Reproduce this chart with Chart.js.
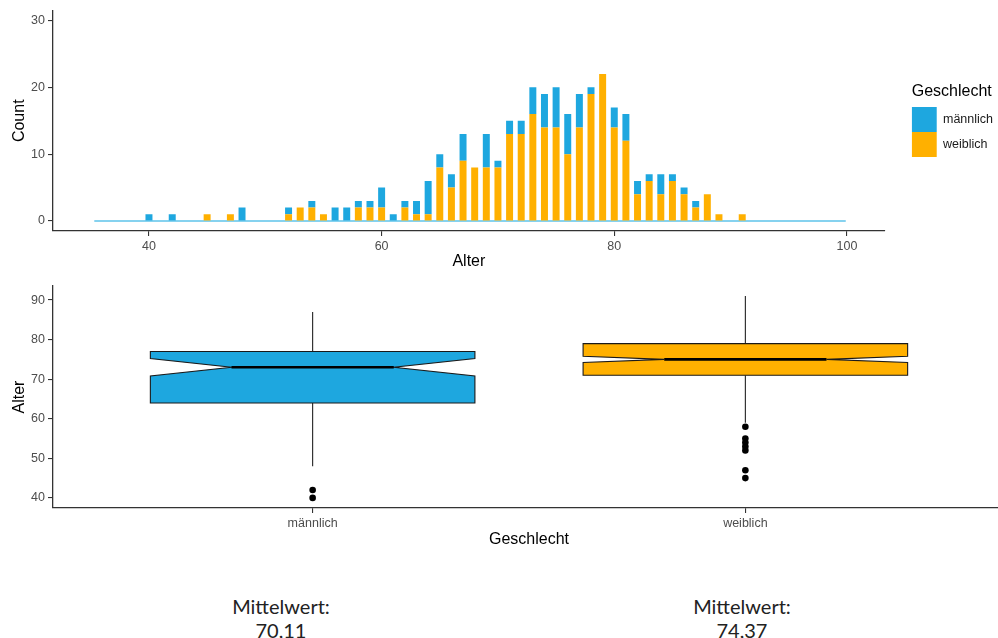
<!DOCTYPE html>
<html>
<head>
<meta charset="utf-8">
<script src="https://cdn.jsdelivr.net/npm/chart.js@4.4.1/dist/chart.umd.min.js"></script>
<style>
  html, body { margin: 0; padding: 0; background: #fff; }
  #page { position: relative; width: 998px; height: 638px; overflow: hidden; }
  #histWrap { position: absolute; left: 0; top: 0; width: 1003px; height: 271px; }
  #boxWrap { position: absolute; left: 0; top: 275px; width: 1009px; height: 274px; }
  .mean { position: absolute; top: 594px; width: 200px; text-align: center;
          font-family: Lato, sans-serif; font-size: 20px; line-height: 24px; color: #222; }
</style>
</head>
<body>
<div id="page">
  <div id="histWrap"><canvas id="histChart"></canvas></div>
  <div id="boxWrap"><canvas id="boxChart"></canvas></div>
  <div class="mean" id="meanM" style="left:181px"></div>
  <div class="mean" id="meanW" style="left:642px"></div>
</div>
<script>
// --- histogram data (Alter 40..91) ---
const ages = [
  40, 41, 42, 43, 44, 45, 46, 47, 48, 49,
  50, 51, 52, 53, 54, 55, 56, 57, 58, 59,
  60, 61, 62, 63, 64, 65, 66, 67, 68, 69,
  70, 71, 72, 73, 74, 75, 76, 77, 78, 79,
  80, 81, 82, 83, 84, 85, 86, 87, 88, 89,
  90, 91,
];
const countMaennlich = [
  1, 0, 1, 0, 0, 0, 0, 0, 2, 0,
  0, 0, 1, 0, 1, 0, 2, 2, 1, 1,
  3, 1, 1, 2, 5, 2, 2, 4, 0, 5,
  1, 2, 2, 4, 5, 6, 6, 5, 1, 0,
  3, 4, 2, 1, 3, 1, 1, 1, 0, 0,
  0, 0,
];
const countWeiblich = [
  0, 0, 0, 0, 0, 1, 0, 1, 0, 0,
  0, 0, 1, 2, 2, 1, 0, 0, 2, 2,
  2, 0, 2, 1, 1, 8, 5, 9, 8, 8,
  8, 13, 13, 16, 14, 14, 10, 14, 19, 22,
  14, 12, 4, 6, 4, 6, 4, 2, 4, 1,
  0, 1,
];
const baselineX = [35.3, 99.9];
const baselineY = [0, 0];
const histXTicks = [40, 60, 80, 100];
const histYTicks = [0, 10, 20, 30];

// --- boxplot data ---
const groups = ['männlich', 'weiblich'];
const whiskerLow = [48, 59];
const q1 = [64, 71];
const median = [73, 75];
const q3 = [77, 79];
const whiskerHigh = [87, 91];
const notchLow = [70.8, 74.2];
const notchHigh = [75.2, 75.8];
const outliersMaennlich = [40, 42];
const outliersWeiblich = [45, 47, 52, 53, 54, 55, 58];
const boxYTicks = [40, 50, 60, 70, 80, 90];
const meanText = ['70,11', '74,37'];

const blue = '#1EA7DF';
const orange = '#FFB000';
const axisGrey = '#333333';
const tickGrey = '#4D4D4D';

Chart.defaults.font.family = "'Liberation Sans', Arial, sans-serif";
Chart.defaults.color = tickGrey;

document.getElementById('meanM').innerHTML = 'Mittelwert:<br>' + meanText[0];
document.getElementById('meanW').innerHTML = 'Mittelwert:<br>' + meanText[1];

function axisCommon(titleText) {
  return {
    grid: { display: true, drawOnChartArea: false, drawTicks: true, tickLength: 5, color: axisGrey, lineWidth: 1.1, offset: false },
    border: { display: true, color: axisGrey, width: 1.3 },
    ticks: { color: tickGrey, font: { size: 12.5 }, padding: 3 },
    title: { display: true, text: titleText, color: '#000', font: { size: 16 }, padding: 0 },
  };
}

function histogramChart() {
  const ctx = document.getElementById('histChart');
  const xAxis = axisCommon('Alter');
  const yAxis = axisCommon('Count');

  new Chart(ctx, {
    type: 'bar',
    data: {
      datasets: [
        {
          label: 'weiblich',
          data: ages.map((a, i) => ({ x: a, y: countWeiblich[i] })),
          backgroundColor: orange,
          borderWidth: 0,
        },
        {
          label: 'männlich',
          data: ages.map((a, i) => ({ x: a, y: countMaennlich[i] })),
          backgroundColor: blue,
          borderWidth: 0,
        },
        {
          type: 'line',
          label: 'baseline',
          stack: 'baseline',
          order: 1,
          data: baselineX.map((a, i) => ({ x: a, y: baselineY[i] })),
          borderColor: '#5EC3EA',
          borderWidth: 1.6,
          pointRadius: 0,
        },
      ],
    },
    options: {
      responsive: true,
      maintainAspectRatio: false,
      animation: false,
      layout: { padding: { top: 10, left: 10, right: 0, bottom: 0 } },
      datasets: { bar: { barPercentage: 0.6, categoryPercentage: 1 } },
      scales: {
        x: {
          ...xAxis,
          type: 'linear',
          offset: false,
          stacked: true,
          min: 31.75,
          max: 103.25,
          afterBuildTicks: (scale) => { scale.ticks = histXTicks.map((v) => ({ value: v })); },
          afterFit: (scale) => { scale.height = 40; },
        },
        y: {
          ...yAxis,
          stacked: true,
          min: -1.5,
          max: 31.5,
          afterBuildTicks: (scale) => { scale.ticks = histYTicks.map((v) => ({ value: v })); },
          afterFit: (scale) => { scale.width = 43; },
        },
        gap: {
          type: 'linear',
          position: 'right',
          display: true,
          grid: { display: false },
          border: { display: false },
          ticks: { display: false },
          afterFit: (scale) => { scale.width = 27; },
        },
      },
      plugins: {
        tooltip: { enabled: false },
        legend: {
          position: 'right',
          align: 'start',
          title: {
            display: true,
            text: 'Geschlecht',
            position: 'start',
            color: '#000',
            font: { size: 16 },
            padding: { top: 74, bottom: 3.8 },
          },
          labels: {
            boxWidth: 25,
            boxHeight: 25,
            padding: 0,
            color: '#1a1a1a',
            font: { size: 12.5 },
            filter: (item) => item.datasetIndex !== 2,
            sort: (a, b) => b.datasetIndex - a.datasetIndex,
          },
        },
      },
    },
  });
}

const notchedBoxes = {
  id: 'notchedBoxes',
  beforeDatasetsDraw(chart) {
    const { ctx, scales: { x, y } } = chart;
    const colors = [blue, orange];
    const py = (v) => y.getPixelForValue(v);
    groups.forEach((g, i) => {
      const pos = i + 1;
      const xl = x.getPixelForValue(pos - 0.375);
      const xr = x.getPixelForValue(pos + 0.375);
      const xc = x.getPixelForValue(pos);
      const indent = (xr - xl) * 0.25;
      ctx.save();
      ctx.strokeStyle = '#222';
      ctx.lineWidth = 1.1;
      ctx.beginPath();
      ctx.moveTo(xc, py(q3[i]));
      ctx.lineTo(xc, py(whiskerHigh[i]));
      ctx.moveTo(xc, py(q1[i]));
      ctx.lineTo(xc, py(whiskerLow[i]));
      ctx.stroke();

      ctx.beginPath();
      ctx.moveTo(xl, py(q3[i]));
      ctx.lineTo(xl, py(notchHigh[i]));
      ctx.lineTo(xl + indent, py(median[i]));
      ctx.lineTo(xl, py(notchLow[i]));
      ctx.lineTo(xl, py(q1[i]));
      ctx.lineTo(xr, py(q1[i]));
      ctx.lineTo(xr, py(notchLow[i]));
      ctx.lineTo(xr - indent, py(median[i]));
      ctx.lineTo(xr, py(notchHigh[i]));
      ctx.lineTo(xr, py(q3[i]));
      ctx.closePath();
      ctx.fillStyle = colors[i];
      ctx.fill();
      ctx.strokeStyle = '#1a1a1a';
      ctx.stroke();

      ctx.beginPath();
      ctx.lineWidth = 2.6;
      ctx.strokeStyle = '#000';
      ctx.moveTo(xl + indent, py(median[i]));
      ctx.lineTo(xr - indent, py(median[i]));
      ctx.stroke();
      ctx.restore();
    });
  },
};

function boxplotChart() {
  const ctx = document.getElementById('boxChart');
  const xAxis = axisCommon('Geschlecht');
  const yAxis = axisCommon('Alter');
  const points = [
    ...outliersMaennlich.map((v) => ({ x: 1, y: v })),
    ...outliersWeiblich.map((v) => ({ x: 2, y: v })),
  ];

  new Chart(ctx, {
    type: 'scatter',
    data: {
      datasets: [
        {
          label: 'Ausreißer',
          data: points,
          pointRadius: 3.3,
          pointBackgroundColor: '#000',
          pointBorderWidth: 0,
        },
      ],
    },
    options: {
      responsive: true,
      maintainAspectRatio: false,
      animation: false,
      layout: { padding: { top: 11, left: 10, right: 0, bottom: 0 } },
      scales: {
        x: {
          ...xAxis,
          type: 'linear',
          min: 0.4,
          max: 2.6,
          ticks: { ...xAxis.ticks, callback: (value, index) => groups[index] },
          afterBuildTicks: (scale) => { scale.ticks = groups.map((g, i) => ({ value: i + 1 })); },
          afterFit: (scale) => { scale.height = 41; },
        },
        y: {
          ...yAxis,
          min: 37.45,
          max: 93.55,
          afterBuildTicks: (scale) => { scale.ticks = boxYTicks.map((v) => ({ value: v })); },
          afterFit: (scale) => { scale.width = 43; },
        },
      },
      plugins: {
        legend: { display: false },
        tooltip: { enabled: false },
      },
    },
    plugins: [notchedBoxes],
  });
}

histogramChart();
boxplotChart();
</script>
</body>
</html>
